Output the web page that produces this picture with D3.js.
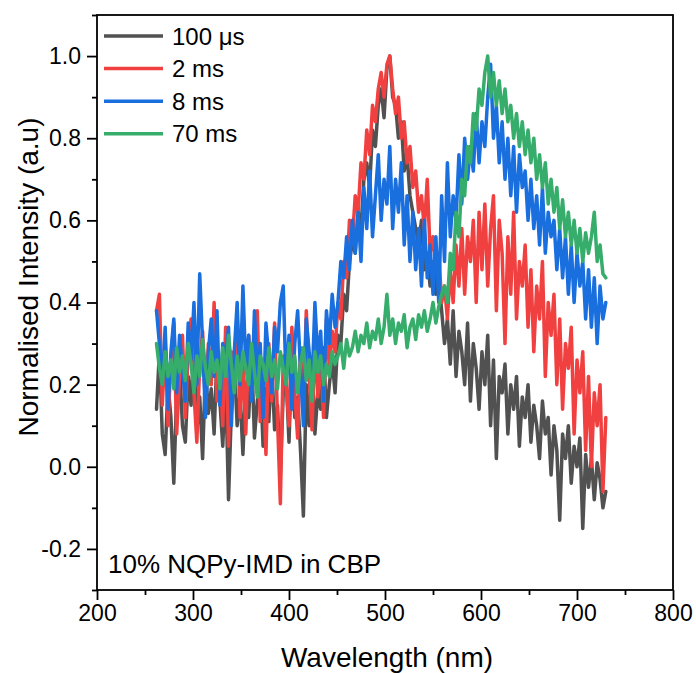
<!DOCTYPE html>
<html>
<head>
<meta charset="utf-8">
<script src="https://cdn.jsdelivr.net/npm/d3@7"></script>
<style>
  body { margin: 0; background: #fff; }
  svg { display: block; }
</style>
</head>
<body>
<div id="chart"></div>
<script>
// Wavelength grid (nm) shared by all four spectra
const wavelength = [
  262, 265, 268, 271, 274, 277, 280, 283, 286, 289,
  292, 295, 298, 301, 304, 307, 310, 313, 316, 319,
  322, 325, 328, 331, 334, 337, 340, 343, 346, 349,
  352, 355, 358, 361, 364, 367, 370, 373, 376, 379,
  382, 385, 388, 391, 394, 397, 400, 403, 406, 409,
  412, 415, 418, 421, 424, 427, 430, 433, 436, 439,
  442, 445, 448, 451, 454, 457, 460, 463, 466, 469,
  472, 475, 478, 481, 484, 487, 490, 493, 496, 499,
  502, 505, 508, 511, 514, 517, 520, 523, 526, 529,
  532, 535, 538, 541, 544, 547, 550, 553, 556, 559,
  562, 565, 568, 571, 574, 577, 580, 583, 586, 589,
  592, 595, 598, 601, 604, 607, 610, 613, 616, 619,
  622, 625, 628, 631, 634, 637, 640, 643, 646, 649,
  652, 655, 658, 661, 664, 667, 670, 673, 676, 679,
  682, 685, 688, 691, 694, 697, 700, 703, 706, 709,
  712, 715, 718, 721, 724, 727, 730
];

const delay100us = [
  0.14, 0.28, 0.08, 0.03, 0.20, 0.12, -0.04, 0.18, 0.25, 0.10,
  0.06, 0.22, 0.15, 0.30, 0.09, 0.17, 0.02, 0.24, 0.13, 0.19,
  0.08, 0.27, 0.16, 0.05, 0.21, -0.08, 0.14, 0.26, 0.10, 0.18,
  0.03, 0.20, 0.12, 0.28, 0.07, 0.16, 0.23, 0.05, 0.19, 0.11,
  0.25, 0.09, 0.15, -0.02, 0.18, 0.22, 0.06, 0.27, 0.12, 0.17,
  0.04, -0.12, 0.20, 0.10, 0.26, 0.08, 0.18, 0.14, 0.29, 0.12,
  0.20, 0.26, 0.18, 0.32, 0.30, 0.42, 0.38, 0.50, 0.55, 0.52,
  0.62, 0.58, 0.70, 0.74, 0.68, 0.82, 0.78, 0.88, 0.92, 0.85,
  0.97, 1.00, 0.90, 0.88, 0.80, 0.84, 0.72, 0.76, 0.66, 0.62,
  0.58, 0.54, 0.60, 0.48, 0.52, 0.44, 0.50, 0.42, 0.46, 0.38,
  0.30, 0.36, 0.25, 0.38, 0.22, 0.33, 0.28, 0.20, 0.35, 0.16,
  0.30, 0.24, 0.14, 0.28, 0.20, 0.32, 0.10, 0.26, 0.02, 0.22,
  0.18, 0.25, 0.08, 0.20, 0.14, 0.22, 0.05, 0.17, 0.12, 0.20,
  0.06, 0.15, 0.10, 0.02, 0.16, 0.08, 0.12, -0.02, 0.10, 0.04,
  -0.13, 0.08, 0.02, 0.10, -0.04, 0.05, 0.00, 0.07, -0.15, 0.03,
  -0.05, 0.02, -0.08, 0.01, -0.03, -0.10, -0.06
];

const delay2ms = [
  0.38, 0.42, 0.15, 0.30, 0.10, 0.26, 0.35, 0.08, 0.22, 0.32,
  0.12, 0.28, 0.36, 0.18, 0.06, 0.25, 0.33, 0.14, 0.30, 0.20,
  0.40, 0.16, 0.24, 0.10, 0.34, 0.05, 0.28, 0.20, 0.37, 0.12,
  0.26, 0.08, 0.32, 0.18, 0.24, 0.38, 0.11, 0.22, 0.03, 0.30,
  0.16, 0.35, 0.12, -0.09, 0.27, 0.20, 0.10, 0.34, 0.18, 0.07,
  0.29, 0.14, 0.38, 0.22, 0.09, 0.31, 0.17, 0.26, 0.12, 0.36,
  0.24, 0.33, 0.28, 0.40, 0.36, 0.50, 0.46, 0.60, 0.55, 0.66,
  0.62, 0.74, 0.70, 0.82, 0.76, 0.88, 0.84, 0.92, 0.96, 0.90,
  0.98, 1.00, 0.92, 0.86, 0.90, 0.80, 0.84, 0.74, 0.78, 0.68,
  0.72, 0.62, 0.66, 0.58, 0.70, 0.52, 0.56, 0.48, 0.52, 0.40,
  0.44, 0.36, 0.48, 0.40, 0.54, 0.44, 0.58, 0.42, 0.56, 0.50,
  0.60, 0.40, 0.62, 0.48, 0.64, 0.44, 0.58, 0.66, 0.38, 0.60,
  0.52, 0.30, 0.56, 0.42, 0.62, 0.36, 0.50, 0.44, 0.54, 0.34,
  0.48, 0.28, 0.44, 0.36, 0.50, 0.22, 0.40, 0.32, 0.42, 0.20,
  0.36, 0.14, 0.30, 0.24, 0.34, 0.08, 0.26, 0.18, 0.28, 0.04,
  0.22, 0.00, 0.18, 0.10, 0.20, -0.06, 0.12
];

const delay8ms = [
  0.38, 0.30, 0.20, 0.34, 0.14, 0.28, 0.36, 0.18, 0.32, 0.24,
  0.16, 0.35, 0.26, 0.40, 0.20, 0.47, 0.30, 0.12, 0.28, 0.36,
  0.22, 0.38, 0.15, 0.30, 0.26, 0.34, 0.10, 0.28, 0.40, 0.20,
  0.44, 0.24, 0.32, 0.16, 0.38, 0.22, 0.30, 0.12, 0.35, 0.26,
  0.18, 0.34, 0.28, 0.40, 0.44, 0.20, 0.32, 0.14, 0.30, 0.38,
  0.24, 0.10, 0.36, 0.28, 0.20, 0.40, 0.26, 0.33, 0.16, 0.38,
  0.30, 0.42, 0.34, 0.40, 0.50, 0.46, 0.56, 0.48, 0.60, 0.52,
  0.62, 0.50, 0.68, 0.58, 0.72, 0.56, 0.66, 0.76, 0.60, 0.70,
  0.64, 0.78, 0.58, 0.70, 0.62, 0.74, 0.54, 0.66, 0.50, 0.62,
  0.48, 0.58, 0.44, 0.60, 0.46, 0.54, 0.42, 0.56, 0.40, 0.66,
  0.50, 0.74, 0.56, 0.66, 0.60, 0.76, 0.64, 0.80, 0.70, 0.78,
  0.72, 0.86, 0.74, 0.84, 0.78, 0.90, 0.98, 0.80, 0.88, 0.74,
  0.84, 0.70, 0.80, 0.66, 0.78, 0.62, 0.76, 0.68, 0.72, 0.60,
  0.70, 0.58, 0.66, 0.54, 0.68, 0.52, 0.62, 0.56, 0.60, 0.48,
  0.58, 0.46, 0.56, 0.42, 0.54, 0.40, 0.52, 0.44, 0.50, 0.36,
  0.48, 0.34, 0.46, 0.30, 0.44, 0.36, 0.40
];

const delay70ms = [
  0.30, 0.24, 0.20, 0.28, 0.22, 0.26, 0.19, 0.29, 0.23, 0.27,
  0.21, 0.30, 0.25, 0.18, 0.27, 0.22, 0.31, 0.24, 0.20, 0.28,
  0.23, 0.26, 0.19, 0.29, 0.22, 0.32, 0.25, 0.18, 0.27, 0.21,
  0.28, 0.24, 0.20, 0.30, 0.23, 0.17, 0.27, 0.25, 0.21, 0.29,
  0.22, 0.26, 0.19, 0.28, 0.24, 0.20, 0.30, 0.23, 0.27, 0.18,
  0.25, 0.29, 0.21, 0.26, 0.16, 0.28, 0.23, 0.27, 0.20, 0.25,
  0.22, 0.28, 0.25, 0.27, 0.30, 0.24, 0.31, 0.27, 0.29, 0.33,
  0.28, 0.32, 0.30, 0.35, 0.29, 0.33, 0.31, 0.36, 0.30, 0.34,
  0.42, 0.32, 0.36, 0.30, 0.35, 0.33, 0.37, 0.29, 0.34, 0.36,
  0.31, 0.37, 0.34, 0.38, 0.33, 0.36, 0.40, 0.35, 0.39, 0.42,
  0.44, 0.40, 0.52, 0.48, 0.62, 0.56, 0.70, 0.66, 0.78, 0.74,
  0.86, 0.82, 0.92, 0.88, 0.96, 1.00, 0.90, 0.96, 0.88, 0.94,
  0.86, 0.92, 0.84, 0.88, 0.80, 0.86, 0.78, 0.84, 0.76, 0.82,
  0.74, 0.80, 0.70, 0.76, 0.68, 0.74, 0.64, 0.70, 0.62, 0.68,
  0.58, 0.65, 0.56, 0.62, 0.54, 0.60, 0.52, 0.58, 0.50, 0.57,
  0.52, 0.56, 0.62, 0.50, 0.54, 0.47, 0.46
];

const seriesLabels = ["100 \u03bcs", "2 ms", "8 ms", "70 ms"];
const seriesValues = [delay100us, delay2ms, delay8ms, delay70ms];
const seriesColors = ["#515151", "#F14040", "#1A6FDF", "#37AD6B"];

const xMajorTicks = [200, 300, 400, 500, 600, 700, 800];
const xMinorTicks = [250, 350, 450, 550, 650, 750];
const yMajorTicks = [-0.2, 0.0, 0.2, 0.4, 0.6, 0.8, 1.0];
const yMinorTicks = [-0.3, -0.1, 0.1, 0.3, 0.5, 0.7, 0.9, 1.1];

const sampleLabel = "10% NQPy-IMD in CBP";
const xTitle = "Wavelength (nm)";
const yTitle = "Normalised Intensity (a.u)";

const width = 696;
const height = 673;
const plot = { left: 97, right: 673, top: 15, bottom: 590 };
const fontFamily = "'Liberation Sans', Arial, Helvetica, sans-serif";

const x = d3.scaleLinear().domain([200, 800]).range([plot.left, plot.right]);
const y = d3.scaleLinear().domain([-0.3, 1.1]).range([plot.bottom, plot.top]);

const svg = d3.select("#chart")
  .append("svg")
  .attr("width", width)
  .attr("height", height)
  .attr("font-family", fontFamily);

svg.append("rect")
  .attr("width", width)
  .attr("height", height)
  .attr("fill", "#fff");

// Spectra, drawn oldest first so the 70 ms trace sits on top
const line = d3.line()
  .x((d, i) => x(wavelength[i]))
  .y((d) => y(d));

svg.append("g")
  .selectAll("path")
  .data(seriesValues)
  .join("path")
  .attr("d", (d) => line(d))
  .attr("fill", "none")
  .attr("stroke", (d, i) => seriesColors[i])
  .attr("stroke-width", 3.5)
  .attr("stroke-linejoin", "round")
  .attr("stroke-linecap", "round");

// Axes
const styleAxis = (g) => {
  g.select(".domain").remove();
  g.selectAll(".tick line").attr("stroke", "#000").attr("stroke-width", 1.8);
  g.selectAll(".tick text").attr("fill", "#000").attr("font-size", 23).attr("font-family", fontFamily);
};

svg.append("g")
  .attr("transform", `translate(0,${plot.bottom})`)
  .call(d3.axisBottom(x).tickValues(xMajorTicks).tickSize(10).tickPadding(5).tickFormat(d3.format("d")))
  .call(styleAxis);

svg.append("g")
  .attr("transform", `translate(0,${plot.bottom})`)
  .call(d3.axisBottom(x).tickValues(xMinorTicks).tickSize(5).tickFormat(""))
  .call(styleAxis);

svg.append("g")
  .attr("transform", `translate(${plot.left},0)`)
  .call(d3.axisLeft(y).tickValues(yMajorTicks).tickSize(10).tickPadding(6).tickFormat((d) => d.toFixed(1)))
  .call(styleAxis);

svg.append("g")
  .attr("transform", `translate(${plot.left},0)`)
  .call(d3.axisLeft(y).tickValues(yMinorTicks).tickSize(5).tickFormat(""))
  .call(styleAxis);

// Frame
svg.append("rect")
  .attr("x", plot.left)
  .attr("y", plot.top)
  .attr("width", plot.right - plot.left)
  .attr("height", plot.bottom - plot.top)
  .attr("fill", "none")
  .attr("stroke", "#000")
  .attr("stroke-width", 1.8);

// Legend
const legend = svg.append("g")
  .selectAll("g")
  .data(seriesLabels)
  .join("g")
  .attr("transform", (d, i) => `translate(104,${36 + i * 32.6})`);

legend.append("line")
  .attr("x1", 0)
  .attr("x2", 59)
  .attr("stroke", (d, i) => seriesColors[i])
  .attr("stroke-width", 3.5);

legend.append("text")
  .attr("x", 68)
  .attr("dy", "0.36em")
  .attr("font-size", 24)
  .attr("fill", "#000")
  .text((d) => d);

// Sample annotation
svg.append("text")
  .attr("x", 108)
  .attr("y", 573)
  .attr("font-size", 26)
  .attr("fill", "#000")
  .text(sampleLabel);

// Axis titles
svg.append("text")
  .attr("x", (plot.left + plot.right) / 2 + 2)
  .attr("y", 667)
  .attr("text-anchor", "middle")
  .attr("font-size", 28)
  .attr("fill", "#000")
  .text(xTitle);

svg.append("text")
  .attr("transform", "translate(38,277) rotate(-90)")
  .attr("text-anchor", "middle")
  .attr("font-size", 28)
  .attr("fill", "#000")
  .text(yTitle);
</script>
</body>
</html>
